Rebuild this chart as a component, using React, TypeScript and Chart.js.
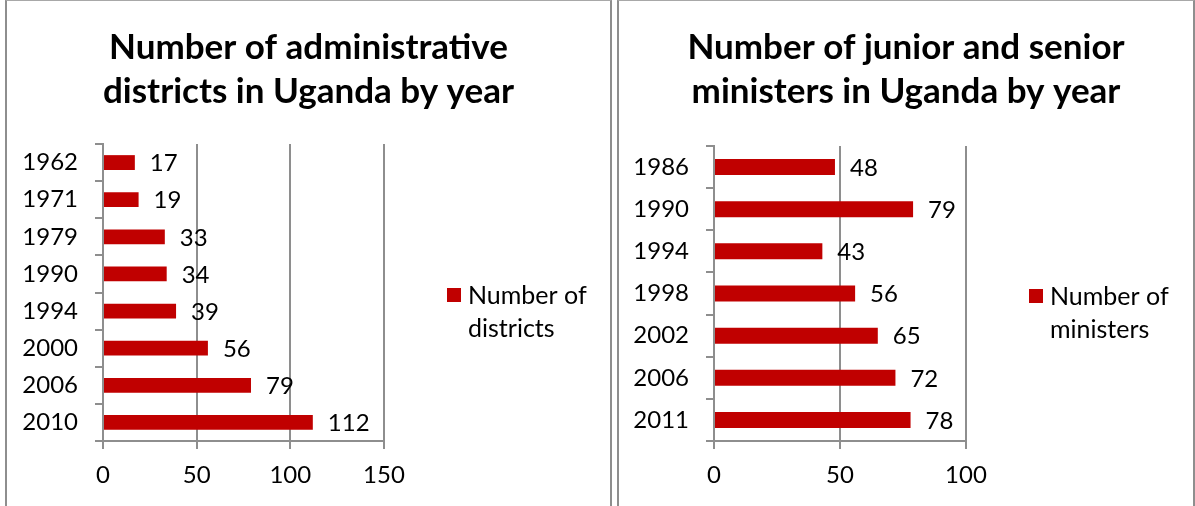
import React, { useEffect, useRef } from "react";
import { Chart, registerables } from "chart.js";

Chart.register(...registerables);

// ---- data ----
const districtYears = ["1962", "1971", "1979", "1990", "1994", "2000", "2006", "2010"];
const districtCounts = [17, 19, 33, 34, 39, 56, 79, 112];
const districtTitle = ["Number of administrative", "districts in Uganda by year"];
const districtSeries = "Number of districts";
const districtLegendLines = ["Number of", "districts"];
const districtAxisMax = 150;

const ministerYears = ["1986", "1990", "1994", "1998", "2002", "2006", "2011"];
const ministerCounts = [48, 79, 43, 56, 65, 72, 78];
const ministerTitle = ["Number of junior and senior", "ministers in Uganda by year"];
const ministerSeries = "Number of ministers";
const ministerLegendLines = ["Number of", "ministers"];
const ministerAxisMax = 100;

const axisStep = 50;

const FONT = "Lato, 'Open Sans', sans-serif";
const BAR = "#C00000";
const GRID = "#8e8e8e";

const valueLabels = {
  id: "valueLabels",
  afterDatasetsDraw(chart: any) {
    const ctx = chart.ctx;
    const meta = chart.getDatasetMeta(0);
    const data = chart.data.datasets[0].data;
    ctx.save();
    ctx.font = `24px ${FONT}`;
    ctx.fillStyle = "#000";
    ctx.textAlign = "left";
    ctx.textBaseline = "middle";
    meta.data.forEach((el: any, i: number) => {
      ctx.fillText(String(data[i]), el.x + 15, el.y + 1);
    });
    ctx.restore();
  },
};

function makeSideLegend(lines: string[]) {
  return {
    id: "sideLegend",
    afterDraw(chart: any) {
      const ctx = chart.ctx;
      const area = chart.chartArea;
      const cy = (area.top + area.bottom) / 2;
      const x = area.right + 63;
      ctx.save();
      ctx.fillStyle = BAR;
      ctx.fillRect(x, cy - 4.5, 14, 14);
      ctx.fillStyle = "#000";
      ctx.font = `25px ${FONT}`;
      ctx.textAlign = "left";
      ctx.textBaseline = "alphabetic";
      lines.forEach((line: string, i: number) => {
        ctx.fillText(line, x + 21, cy + 11 + i * 33);
      });
      ctx.restore();
    },
  };
}

function makeConfig(p: any) {
  return {
    type: "bar",
    data: {
      labels: p.labels,
      datasets: [
        {
          label: p.series,
          data: p.values,
          backgroundColor: BAR,
          borderWidth: 0,
          barPercentage: p.barPct,
          categoryPercentage: 1,
        },
      ],
    },
    options: {
      indexAxis: "y",
      responsive: false,
      animation: false,
      plugins: {
        legend: { display: false },
        tooltip: { enabled: false },
        title: {
          display: true,
          text: p.title,
          color: "#000",
          font: { family: FONT, size: 35, weight: "bold", lineHeight: "44px" },
          padding: { top: 25, bottom: p.titleBottom },
        },
      },
      scales: {
        x: {
          type: "linear",
          min: 0,
          max: p.max,
          ticks: {
            stepSize: axisStep,
            color: "#000",
            padding: 12,
            font: { family: FONT, size: 24 },
          },
          grid: { color: GRID, lineWidth: 2, tickLength: 8, drawTicks: true },
          border: { display: true, color: GRID, width: 2 },
          afterFit: (s: any) => {
            s.height = 65;
          },
        },
        y: {
          type: "category",
          ticks: {
            color: "#000",
            padding: 17,
            font: { family: FONT, size: 24 },
          },
          grid: {
            color: GRID,
            lineWidth: 2,
            tickLength: 8,
            drawOnChartArea: false,
            offset: true,
          },
          border: { display: true, color: GRID, width: 2 },
          afterFit: (s: any) => {
            s.width = p.yWidth;
          },
        },
        legendSpace: {
          type: "linear",
          position: "right",
          axis: "y",
          ticks: { display: false },
          grid: { display: false, drawTicks: false },
          border: { display: false },
          afterFit: (s: any) => {
            s.width = p.reserveRight;
          },
        },
      },
    },
    plugins: [valueLabels, makeSideLegend(p.legendLines)],
  };
}

function Panel(props: { width: number; marginLeft: number; config: any }) {
  const ref = useRef<HTMLCanvasElement | null>(null);
  useEffect(() => {
    const el = ref.current;
    if (!el) return;
    const chart = new Chart(el, props.config);
    return () => chart.destroy();
  }, []);
  return (
    <div
      style={{
        flex: "0 0 auto",
        marginLeft: props.marginLeft,
        width: props.width,
        height: 505,
        borderLeft: `2px solid ${GRID}`,
        borderRight: `2px solid ${GRID}`,
        borderTop: "1px solid #a8a8a8",
        background: "#fff",
      }}
    >
      <canvas ref={ref} width={props.width} height={505} style={{ display: "block", width: props.width, height: 505 }} />
    </div>
  );
}

export default function App() {
  const left = makeConfig({
    labels: districtYears,
    values: districtCounts,
    series: districtSeries,
    title: districtTitle,
    legendLines: districtLegendLines,
    max: districtAxisMax,
    yWidth: 96,
    reserveRight: 226,
    titleBottom: 30,
    barPct: 0.4,
  });
  const right = makeConfig({
    labels: ministerYears,
    values: ministerCounts,
    series: ministerSeries,
    title: ministerTitle,
    legendLines: ministerLegendLines,
    max: ministerAxisMax,
    yWidth: 95,
    reserveRight: 227,
    titleBottom: 32,
    barPct: 0.38,
  });
  return (
    <>
      <style>{"html,body{margin:0;padding:0;background:#fff;}"}</style>
      <div
        style={{
          width: 1195,
          height: 506,
          display: "flex",
          flexDirection: "row",
          background: "#fff",
          overflow: "hidden",
        }}
      >
        <Panel marginLeft={5} width={603} config={left} />
        <Panel marginLeft={5} width={574} config={right} />
      </div>
    </>
  );
}
